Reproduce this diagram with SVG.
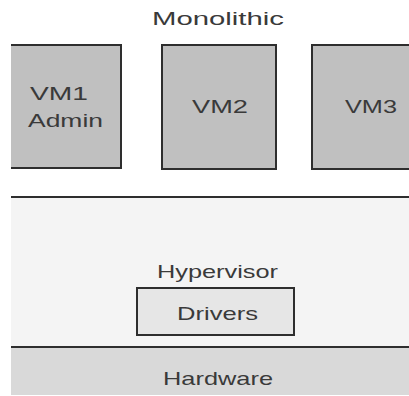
<svg xmlns="http://www.w3.org/2000/svg" width="409" height="396" viewBox="0 0 409 396">
<style>
.t{font-family:"Liberation Sans",Arial,sans-serif;font-size:19px;fill:#3a3a3a;text-anchor:middle}
.vm{fill:#c0c0c0}
.edge{fill:none;stroke:#2e2e2e;stroke-width:2}
</style>
<rect width="409" height="396" fill="#ffffff"/>
<text class="t" x="218" y="25" textLength="132" lengthAdjust="spacingAndGlyphs">Monolithic</text>
<g id="vm1">
<rect class="vm" x="11" y="45" width="111" height="123"/>
<path class="edge" d="M11 45H121V168H11"/>
<text class="t" x="59" y="100" textLength="58" lengthAdjust="spacingAndGlyphs">VM1</text>
<text class="t" x="65.5" y="127" textLength="75" lengthAdjust="spacingAndGlyphs">Admin</text>
</g>
<g id="vm2">
<rect class="vm" x="162" y="45" width="114" height="124"/>
<rect class="edge" x="162" y="45" width="114" height="124"/>
<text class="t" x="220" y="113" textLength="56" lengthAdjust="spacingAndGlyphs">VM2</text>
</g>
<g id="vm3">
<rect class="vm" x="312" y="45" width="97" height="124"/>
<path class="edge" d="M410 45H312V169H410"/>
<text class="t" x="371" y="113" textLength="52" lengthAdjust="spacingAndGlyphs">VM3</text>
</g>
<g id="hypervisor">
<rect x="11" y="197" width="398" height="150" fill="#f4f4f4"/>
<path class="edge" d="M11 197H409"/>
<text class="t" x="217.5" y="278" textLength="121" lengthAdjust="spacingAndGlyphs">Hypervisor</text>
</g>
<g id="drivers">
<rect x="137" y="288" width="157" height="47" fill="#e6e6e6" stroke="#2e2e2e" stroke-width="2"/>
<text class="t" x="217.5" y="320" textLength="81" lengthAdjust="spacingAndGlyphs">Drivers</text>
</g>
<g id="hardware">
<rect x="11" y="347" width="398" height="48" fill="#d9d9d9"/>
<path class="edge" d="M11 347H409"/>
<text class="t" x="218" y="385" textLength="110" lengthAdjust="spacingAndGlyphs">Hardware</text>
</g>
<g id="connectors"/>
</svg>
